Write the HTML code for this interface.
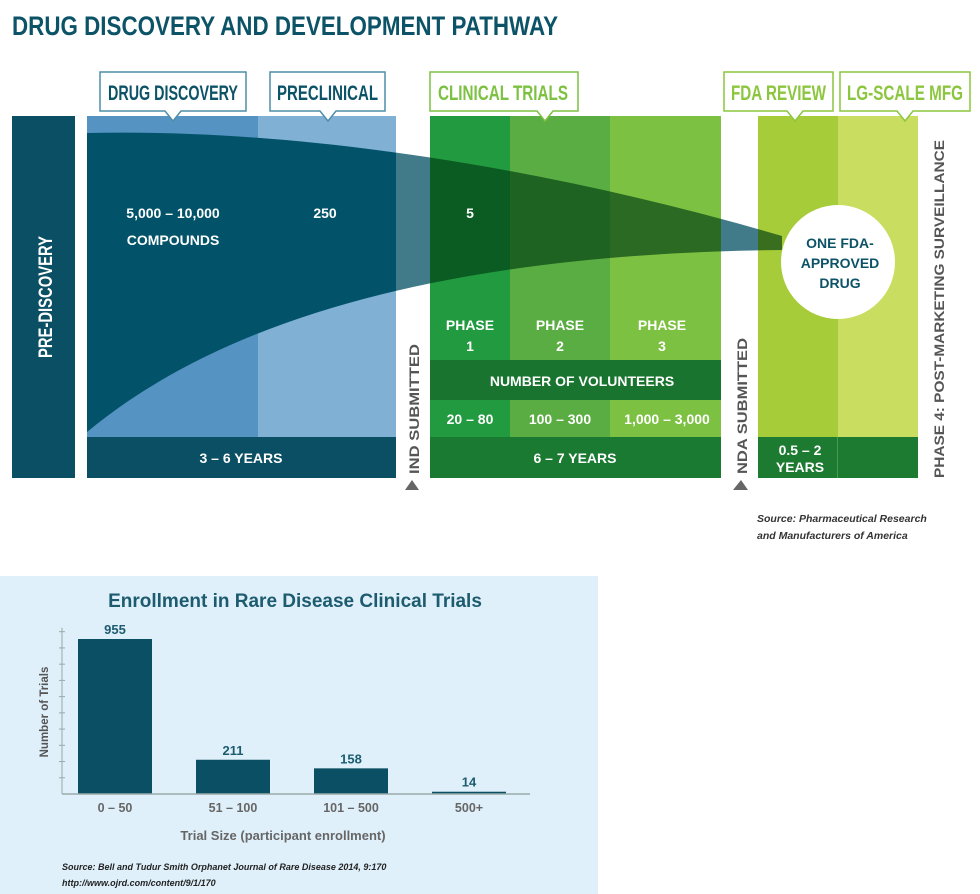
<!DOCTYPE html>
<html><head><meta charset="utf-8"><style>
html,body{margin:0;padding:0;background:#fff;width:980px;height:894px;overflow:hidden}
svg{display:block}
.cond{font-family:"Liberation Sans Narrow","Liberation Sans",sans-serif;font-weight:bold}
.b{font-family:"Liberation Sans",sans-serif;font-weight:bold}
</style></head><body>
<svg id="main" width="980" height="894" viewBox="0 0 980 894">
<defs>
<path id="funnel" d="M87,133 C300,128 550,168 782,236 L782,250 Q300,255 87,432 Z"/>
<clipPath id="clipBlue"><rect x="87" y="116" width="309" height="321"/></clipPath>
<clipPath id="clipGap"><rect x="396" y="116" width="34" height="321"/></clipPath>
<clipPath id="clipGreen"><rect x="430" y="116" width="291" height="244"/><rect x="758" y="116" width="30" height="244"/></clipPath>
<clipPath id="clipGap2"><rect x="721" y="116" width="37" height="244"/></clipPath>
</defs>
<text x="12" y="35" class="cond" font-size="27" fill="#0d5367" textLength="546" lengthAdjust="spacingAndGlyphs">DRUG DISCOVERY AND DEVELOPMENT PATHWAY</text>

<!-- pre-discovery -->
<rect x="12" y="116" width="63" height="362" fill="#0a4f64"/>
<text transform="translate(52,297) rotate(-90)" text-anchor="middle" class="cond" font-size="19" fill="#fff" textLength="122" lengthAdjust="spacingAndGlyphs">PRE-DISCOVERY</text>

<!-- discovery/preclinical -->
<g>
<rect x="87" y="116" width="171" height="321" fill="#5593c2"/>
<rect x="258" y="116" width="138" height="321" fill="#80b1d4"/>
<use href="#funnel" fill="#02536a" clip-path="url(#clipBlue)"/>
<use href="#funnel" fill="#0b5468" opacity="0.78" clip-path="url(#clipGap)"/>
<use href="#funnel" fill="#0b5468" opacity="0.78" clip-path="url(#clipGap2)"/>
<rect x="87" y="437" width="309" height="41" fill="#0a4f64"/>
<text x="241" y="463" text-anchor="middle" class="b" font-size="14" fill="#fff">3 – 6 YEARS</text>
<text x="173" y="218" text-anchor="middle" class="b" font-size="14" fill="#fff">5,000 – 10,000</text>
<text x="173" y="245" text-anchor="middle" class="b" font-size="14" fill="#fff">COMPOUNDS</text>
<text x="325" y="218" text-anchor="middle" class="b" font-size="14" fill="#fff">250</text>
</g>

<!-- clinical -->
<g>
<rect x="430" y="116" width="80" height="321" fill="#229a40"/>
<rect x="510" y="116" width="100" height="321" fill="#5aad42"/>
<rect x="610" y="116" width="111" height="321" fill="#7dc142"/>
<rect x="758" y="116" width="80" height="321" fill="#a6cc3a"/>
<rect x="838" y="116" width="80" height="321" fill="#c9dd60"/>
<use href="#funnel" fill="#003d12" opacity="0.66" clip-path="url(#clipGreen)"/>
<rect x="430" y="360" width="291" height="40" fill="#18742f"/>
<rect x="430" y="437" width="291" height="41" fill="#1a7a32"/>
<rect x="758" y="437" width="160" height="41" fill="#1d7a31"/>
<rect x="837" y="437" width="1" height="41" fill="#4a9a4a"/>
<text x="470" y="218" text-anchor="middle" class="b" font-size="14" fill="#fff">5</text>
<text x="470" y="330" text-anchor="middle" class="b" font-size="14" fill="#fff">PHASE</text>
<text x="470" y="351" text-anchor="middle" class="b" font-size="14" fill="#fff">1</text>
<text x="560" y="330" text-anchor="middle" class="b" font-size="14" fill="#fff">PHASE</text>
<text x="560" y="351" text-anchor="middle" class="b" font-size="14" fill="#fff">2</text>
<text x="662" y="330" text-anchor="middle" class="b" font-size="14" fill="#fff">PHASE</text>
<text x="662" y="351" text-anchor="middle" class="b" font-size="14" fill="#fff">3</text>
<text x="582" y="386" text-anchor="middle" class="b" font-size="14" fill="#fff">NUMBER OF VOLUNTEERS</text>
<text x="470" y="424" text-anchor="middle" class="b" font-size="14" fill="#fff">20 – 80</text>
<text x="560" y="424" text-anchor="middle" class="b" font-size="14" fill="#fff">100 – 300</text>
<text x="667" y="424" text-anchor="middle" class="b" font-size="14" fill="#fff">1,000 – 3,000</text>
<text x="575" y="463" text-anchor="middle" class="b" font-size="14" fill="#fff">6 – 7 YEARS</text>
<text x="800" y="455" text-anchor="middle" class="b" font-size="14" fill="#fff">0.5 – 2</text>
<text x="800" y="472" text-anchor="middle" class="b" font-size="14" fill="#fff">YEARS</text>
<circle cx="838" cy="262" r="57" fill="#fff"/>
<text x="840" y="248" text-anchor="middle" class="b" font-size="14" fill="#0d5367">ONE FDA-</text>
<text x="840" y="268" text-anchor="middle" class="b" font-size="14" fill="#0d5367">APPROVED</text>
<text x="840" y="288" text-anchor="middle" class="b" font-size="14" fill="#0d5367">DRUG</text>
</g>

<!-- vertical labels -->
<text transform="translate(419,474) rotate(-90)" class="b" font-size="14" fill="#555" textLength="130" lengthAdjust="spacingAndGlyphs">IND SUBMITTED</text>
<path d="M405,490 L419,490 L412,480 Z" fill="#666"/>
<text transform="translate(747,474) rotate(-90)" class="b" font-size="14" fill="#555" textLength="136" lengthAdjust="spacingAndGlyphs">NDA SUBMITTED</text>
<path d="M733,490 L748,490 L741,480 Z" fill="#666"/>
<text transform="translate(944,478) rotate(-90)" class="b" font-size="14" fill="#555" textLength="338" lengthAdjust="spacingAndGlyphs">PHASE 4: POST-MARKETING SURVEILLANCE</text>

<!-- callout boxes -->
<g>
<path d="M100,72 H246 V111 H181 L173,121 L165,111 H100 Z" fill="#fff" stroke="#4f8ea8" stroke-width="1.5"/>
<text x="108" y="100" class="cond" font-size="21" fill="#0d5367" textLength="130" lengthAdjust="spacingAndGlyphs">DRUG DISCOVERY</text></g>
<g>
<path d="M270,72 H385 V111 H336 L328,121 L320,111 H270 Z" fill="#fff" stroke="#4f8ea8" stroke-width="1.5"/>
<text x="277" y="100" class="cond" font-size="21" fill="#0d5367" textLength="101" lengthAdjust="spacingAndGlyphs">PRECLINICAL</text></g>
<g>
<path d="M430,72 H578 V111 H553 L545,121 L537,111 H430 Z" fill="#fff" stroke="#7dc142" stroke-width="1.5"/>
<text x="438" y="100" class="cond" font-size="21" fill="#7dc142" textLength="130" lengthAdjust="spacingAndGlyphs">CLINICAL TRIALS</text></g>
<g>
<path d="M724,72 H833 V111 H803 L795,121 L787,111 H724 Z" fill="#fff" stroke="#8cc63f" stroke-width="1.5"/>
<text x="731" y="100" class="cond" font-size="21" fill="#8cc63f" textLength="95" lengthAdjust="spacingAndGlyphs">FDA REVIEW</text></g>
<g>
<path d="M840,72 H970 V111 H913 L905,121 L897,111 H840 Z" fill="#fff" stroke="#8cc63f" stroke-width="1.5"/>
<text x="847" y="100" class="cond" font-size="21" fill="#8cc63f" textLength="116" lengthAdjust="spacingAndGlyphs">LG-SCALE MFG</text></g>

<text x="757" y="522" font-family="Liberation Sans,sans-serif" font-style="italic" font-weight="bold" font-size="10.5" fill="#333">Source: Pharmaceutical Research</text>
<text x="757" y="539" font-family="Liberation Sans,sans-serif" font-style="italic" font-weight="bold" font-size="10.5" fill="#333">and Manufacturers of America</text>

<!-- bar chart -->
<g>
<rect x="0" y="576" width="598" height="318" fill="#dff0fa"/>
<text x="295" y="607" text-anchor="middle" class="b" font-size="19" fill="#1d5b6f">Enrollment in Rare Disease Clinical Trials</text>
<text transform="translate(48,712) rotate(-90)" text-anchor="middle" class="b" font-size="11.5" fill="#555">Number of Trials</text>
<text x="283" y="840" text-anchor="middle" class="b" font-size="13" fill="#666">Trial Size (participant enrollment)</text>
<text x="62" y="870" font-family="Liberation Sans,sans-serif" font-style="italic" font-weight="bold" font-size="9" fill="#222">Source: Bell and Tudur Smith Orphanet Journal of Rare Disease 2014, 9:170</text>
<text x="62" y="886" font-family="Liberation Sans,sans-serif" font-style="italic" font-weight="bold" font-size="9" fill="#222">http://www.ojrd.com/content/9/1/170</text>
<g id="plot"></g>
</g>
</svg>
<script>
const categories = ["0 – 50", "51 – 100", "101 – 500", "500+"];
const trialCounts = [955, 211, 158, 14];
const yTicks = [100, 200, 300, 400, 500, 600, 700, 800, 900, 1000];

const NS = "http://www.w3.org/2000/svg";
const plot = document.getElementById("plot");
const baseY = 794, axisX0 = 62, axisX1 = 530;
const y = v => baseY - v * 0.1623;
const bandW = 118, barW = 74;
const xc = i => 115 + i * bandW;
function mk(tag, attrs, txt) {
  const e = document.createElementNS(NS, tag);
  for (const k in attrs) e.setAttribute(k, attrs[k]);
  if (txt !== undefined) e.textContent = txt;
  plot.appendChild(e);
  return e;
}
const yAxis = mk("line", {x1: axisX0, x2: axisX0, y1: y(1000) - 4, y2: baseY, stroke: "#9aa", "stroke-width": 1});


yTicks.forEach(t => {
  const tk = mk("line", {x1: axisX0 - 3, x2: axisX0 + 3, y1: y(t), y2: y(t), stroke: "#9aa", "stroke-width": 1});
  
  
});
categories.forEach((c, i) => {
  const v = trialCounts[i];
  const r = mk("rect", {x: xc(i) - barW / 2, y: y(v), width: barW, height: baseY - y(v), fill: "#0a4f63"});
  
  
  const vl = mk("text", {x: xc(i), y: y(v) - 5, "text-anchor": "middle", "class": "cond", "font-size": 13, fill: "#1d5b6f"}, String(v));
  
  
  const xl = mk("text", {x: xc(i), y: 812, "text-anchor": "middle", "class": "b", "font-size": 12.5, fill: "#666"}, c);
  
  
});
const xAxis = mk("line", {x1: axisX0, x2: axisX1, y1: baseY, y2: baseY, stroke: "#9aa", "stroke-width": 1.5});


</script>
</body></html>
